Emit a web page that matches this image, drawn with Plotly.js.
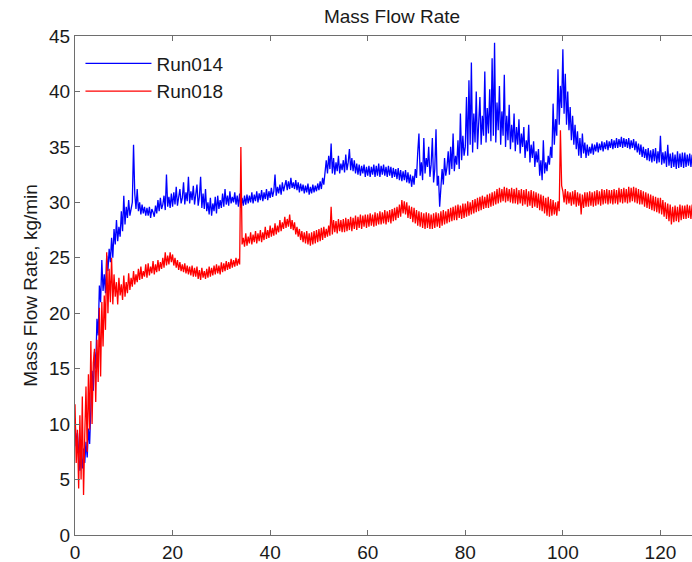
<!DOCTYPE html>
<html>
<head>
<meta charset="utf-8">
<script src="https://cdn.plot.ly/plotly-3.0.1.min.js"></script>
<style>
html,body{margin:0;padding:0;overflow:hidden;background:#fff;}
#chart{width:762px;height:562px;}
</style>
</head>
<body>
<div id="chart"></div>
<script>
// Sampling of the time axis (minutes)
const timeStart = 0;
const timeStep = 0.25;

const seriesNames = ["Run014", "Run018"];

// Run014 mass flow rate, kg/min (every 0.25 min)
const run014 = [
  10.5, 8.0, 9.2, 6.8, 5.8, 7.2, 6.0, 7.8, 6.5, 8.4, 7.0, 9.6, 8.2, 11.5, 14.8, 13.0, 16.5, 15.0, 19.5, 18.0,
  22.5, 21.0, 24.8, 22.0, 23.5, 21.8, 25.2, 23.8, 25.8, 24.6, 26.8, 25.0, 27.6, 26.2, 28.4, 26.5, 27.8, 26.9, 29.2, 27.4,
  30.6, 28.0, 29.6, 28.6, 30.2, 28.8, 29.4, 30.0, 35.2, 30.8, 29.4, 31.2, 29.2, 30.0, 28.9, 29.8, 29.0, 29.6, 28.8, 29.5,
  28.8, 29.6, 28.6, 29.4, 29.1, 28.7, 29.7, 29.0, 30.2, 29.2, 30.4, 29.4, 29.8, 30.6, 29.3, 32.5, 29.6, 30.5, 29.5, 30.8,
  29.6, 30.9, 29.8, 31.4, 29.7, 30.6, 31.2, 29.9, 30.4, 31.8, 29.8, 30.9, 30.1, 32.3, 29.9, 31.0, 30.2, 31.5, 29.8, 30.7,
  31.6, 29.7, 30.5, 32.3, 29.5, 30.8, 29.4, 31.2, 29.2, 30.0, 28.9, 30.4, 28.8, 29.9, 29.2, 30.5, 29.0, 30.6, 29.4, 30.2,
  29.5, 30.8, 29.6, 31.2, 29.8, 30.6, 29.7, 31.0, 29.9, 30.5, 30.0, 30.9, 29.8, 30.6, 29.6, 30.8, 29.5, 30.4, 29.7, 30.6,
  29.8, 30.7, 29.9, 30.6, 30.0, 30.9, 29.9, 30.7, 30.1, 31.0, 30.0, 30.8, 30.2, 31.1, 30.1, 30.9, 30.3, 31.2, 30.2, 31.0,
  30.4, 31.3, 30.5, 31.0, 32.5, 30.6, 31.4, 30.8, 31.6, 30.7, 31.8, 31.0, 31.5, 32.0, 31.1, 31.9, 31.2, 32.2, 31.3, 31.8,
  31.2, 32.0, 31.1, 31.8, 30.9, 31.7, 31.0, 31.6, 30.8, 31.5, 30.9, 31.7, 30.7, 31.4, 30.8, 31.6, 30.9, 31.5, 31.0, 31.7,
  31.1, 31.9, 31.2, 32.2, 31.6, 32.8, 33.8, 32.6, 34.2, 33.0, 35.3, 32.6, 34.0, 32.5, 33.6, 32.8, 34.2, 32.6, 33.5, 32.9,
  33.8, 32.7, 34.3, 32.9, 33.6, 34.8, 32.9, 34.0, 32.8, 33.8, 32.6, 33.5, 32.5, 33.4, 32.4, 33.3, 32.6, 33.4, 32.3, 33.2,
  32.4, 33.3, 32.3, 33.2, 32.5, 33.4, 32.3, 33.3, 32.4, 33.5, 32.3, 33.3, 32.5, 33.4, 32.4, 33.2, 32.3, 33.3, 32.4, 33.2,
  32.2, 33.1, 32.3, 33.0, 32.1, 33.1, 32.0, 32.9, 31.9, 32.8, 32.0, 32.9, 31.8, 32.7, 31.7, 32.5, 31.4, 32.4, 31.6, 33.0,
  32.2, 34.5, 36.2, 32.4, 33.6, 32.0, 35.8, 32.6, 34.0, 33.2, 35.0, 32.3, 33.4, 35.8, 31.8, 33.0, 36.6, 31.5, 32.4, 29.6,
  31.0, 33.0, 31.6, 34.0, 32.4, 33.2, 34.6, 32.5, 35.0, 33.0, 36.2, 32.8, 34.2, 33.4, 35.6, 33.0, 38.0, 33.8, 36.0, 34.2,
  35.0, 39.5, 34.2, 41.0, 35.2, 42.6, 34.5, 38.0, 35.4, 40.0, 34.8, 37.5, 39.5, 35.2, 37.8, 36.0, 41.8, 35.4, 38.5, 36.2,
  40.2, 35.5, 43.0, 36.0, 44.4, 35.4, 39.0, 36.5, 40.5, 35.2, 38.2, 36.0, 41.5, 35.0, 37.8, 35.6, 38.8, 34.8, 37.0, 35.4,
  38.0, 34.6, 36.8, 35.2, 37.5, 34.4, 36.2, 35.0, 36.8, 34.0, 35.6, 34.6, 37.0, 33.6, 35.2, 34.0, 35.5, 33.2, 34.6, 33.6,
  34.8, 32.4, 33.8, 32.0, 35.6, 32.6, 33.6, 32.8, 34.2, 33.4, 35.0, 34.0, 38.9, 35.2, 37.5, 36.0, 42.0, 37.0, 40.5, 38.5,
  43.8, 38.0, 41.6, 37.0, 40.0, 36.5, 38.6, 35.6, 37.8, 35.2, 37.0, 34.8, 36.4, 34.2, 35.8, 34.0, 36.2, 34.4, 35.4, 34.0,
  35.2, 34.2, 35.0, 34.4, 35.3, 34.3, 35.2, 34.6, 35.4, 34.5, 35.3, 34.7, 35.5, 34.6, 35.4, 34.8, 35.6, 34.7, 35.5, 34.9,
  35.7, 34.8, 35.6, 34.9, 35.8, 34.9, 35.7, 35.0, 35.9, 34.9, 35.8, 35.0, 35.7, 34.9, 35.8, 34.8, 35.6, 34.9, 35.7, 34.7,
  35.5, 34.5, 35.3, 34.3, 35.2, 34.1, 35.0, 34.0, 34.8, 33.8, 34.9, 33.7, 34.7, 33.6, 34.8, 33.7, 34.9, 33.5, 34.6, 33.6,
  36.0, 33.4, 34.5, 33.5, 34.6, 33.2, 35.2, 33.3, 34.4, 33.1, 34.5, 33.2, 34.3, 33.0, 34.6, 33.1, 34.4, 33.2, 34.5, 33.1,
  34.5, 33.2, 34.3, 33.3, 34.4, 33.2, 34.3
];

// Run018 mass flow rate, kg/min (every 0.25 min)
const run018 = [
  11.8, 6.5, 9.5, 4.2, 10.8, 5.0, 12.5, 3.6, 9.0, 13.4, 7.5, 14.5, 9.5, 17.5, 10.0, 15.5, 16.8, 12.0, 17.6, 13.8,
  20.5, 14.3, 21.0, 17.0, 21.6, 18.5, 25.5, 20.0, 24.0, 21.0, 25.0, 20.8, 23.5, 21.5, 22.8, 20.8, 23.2, 21.6, 22.6, 21.2,
  23.4, 21.5, 22.8, 21.8, 23.6, 22.1, 23.2, 22.4, 23.8, 22.6, 23.5, 22.8, 24.0, 23.0, 24.2, 23.1, 23.8, 23.3, 24.4, 23.2,
  24.5, 23.4, 24.2, 23.6, 24.7, 23.5, 24.4, 23.7, 24.8, 23.8, 24.6, 24.0, 25.0, 24.1, 25.5, 24.3, 25.2, 24.4, 25.5, 24.6,
  25.3, 24.3, 25.0, 24.1, 24.8, 23.9, 24.6, 23.8, 24.4, 23.7, 24.5, 23.6, 24.3, 23.5, 24.2, 23.4, 24.3, 23.3, 24.1, 23.3,
  24.2, 23.1, 23.9, 23.0, 24.1, 23.2, 23.8, 23.1, 24.0, 23.2, 24.2, 23.3, 24.1, 23.4, 24.3, 23.5, 24.4, 23.6, 24.3, 23.5,
  24.6, 23.7, 24.5, 23.8, 24.7, 23.9, 24.6, 24.0, 24.9, 24.1, 24.8, 24.2, 25.0, 24.3, 24.9, 24.4, 35.0, 26.2, 26.8, 26.0,
  27.2, 26.1, 26.9, 26.3, 27.3, 26.2, 27.1, 26.4, 27.4, 26.3, 27.2, 26.5, 27.5, 26.4, 27.3, 26.6, 27.8, 26.7, 27.5, 26.8,
  27.9, 26.9, 27.7, 27.0, 28.1, 27.1, 27.9, 27.3, 28.4, 27.4, 28.2, 27.6, 28.7, 27.7, 28.5, 27.8, 28.9, 27.6, 28.4, 27.5,
  28.2, 27.1, 27.8, 26.9, 27.6, 26.6, 27.4, 26.4, 27.3, 26.3, 27.4, 26.2, 27.2, 26.1, 27.3, 26.2, 27.4, 26.3, 27.5, 26.4,
  27.6, 26.5, 27.7, 26.6, 27.8, 26.8, 27.6, 26.9, 27.9, 27.0, 29.6, 27.1, 28.4, 27.3, 28.3, 27.2, 28.5, 27.4, 28.4, 27.3,
  28.5, 27.3, 28.6, 27.4, 28.5, 27.5, 28.7, 27.4, 28.6, 27.6, 28.8, 27.5, 28.7, 27.7, 28.9, 27.6, 28.8, 27.8, 28.9, 27.7,
  28.9, 27.8, 29.0, 27.9, 28.9, 27.8, 29.1, 27.9, 29.0, 28.0, 29.2, 28.0, 29.1, 28.1, 29.3, 28.0, 29.2, 28.2, 29.3, 28.1,
  29.4, 28.3, 29.5, 28.4, 29.6, 28.6, 29.8, 28.7, 30.2, 29.0, 30.1, 28.9, 30.0, 28.6, 29.7, 28.5, 29.6, 28.2, 29.5, 28.1,
  29.3, 27.9, 29.2, 27.8, 29.1, 27.7, 29.0, 27.6, 29.1, 27.7, 29.0, 27.6, 28.9, 27.6, 29.0, 27.7, 29.1, 27.8, 29.0, 27.7,
  29.2, 27.9, 29.3, 28.0, 29.2, 28.1, 29.4, 28.2, 29.5, 28.3, 29.6, 28.4, 29.7, 28.4, 29.8, 28.6, 29.7, 28.5, 29.9, 28.6,
  29.9, 28.7, 30.1, 28.8, 30.0, 28.9, 30.2, 29.0, 30.3, 29.1, 30.4, 29.2, 30.5, 29.3, 30.6, 29.4, 30.5, 29.5, 30.7, 29.5,
  30.8, 29.6, 30.9, 29.7, 31.0, 29.8, 31.2, 29.9, 31.3, 30.0, 31.2, 30.1, 31.4, 30.0, 31.3, 30.1, 31.2, 30.0, 31.3, 29.9,
  31.2, 29.9, 31.3, 29.8, 31.1, 29.9, 31.2, 29.7, 31.1, 29.8, 31.2, 29.6, 31.0, 29.7, 31.1, 29.5, 31.0, 29.6, 30.9, 29.5,
  30.8, 29.3, 30.7, 29.2, 30.6, 29.0, 30.4, 28.8, 30.5, 28.7, 30.3, 28.8, 30.2, 28.9, 30.0, 28.8, 30.1, 29.2, 36.5, 31.5,
  31.0, 30.0, 31.2, 29.8, 31.0, 29.9, 30.9, 29.7, 31.0, 29.8, 31.1, 29.6, 30.9, 29.7, 30.8, 28.9, 30.7, 29.5, 30.9, 29.6,
  30.9, 29.6, 31.0, 29.7, 30.9, 29.6, 31.0, 29.7, 31.1, 29.8, 31.0, 29.7, 31.2, 29.8, 31.1, 29.9, 31.2, 29.8, 31.1, 29.9,
  31.1, 29.8, 31.2, 29.9, 31.1, 29.8, 31.3, 30.0, 31.2, 29.9, 31.3, 30.0, 31.2, 29.9, 31.4, 30.0, 31.3, 30.1, 31.4, 30.0,
  31.3, 29.9, 31.2, 29.8, 31.1, 29.8, 31.0, 29.6, 30.9, 29.5, 30.8, 29.4, 30.7, 29.3, 30.6, 29.2, 30.5, 29.1, 30.4, 29.0,
  30.4, 28.9, 30.2, 28.7, 30.0, 28.5, 29.9, 28.3, 29.8, 28.0, 29.6, 28.2, 29.7, 28.3, 29.6, 28.2, 29.8, 28.4, 29.7, 28.5,
  29.7, 28.5, 29.8, 28.6, 29.7, 28.5, 29.8
];

const xTickVals = [0, 20, 40, 60, 80, 100, 120, 140];
const yTickVals = [0, 5, 10, 15, 20, 25, 30, 35, 40, 45];

function timesFor(arr) {
  return arr.map((_, i) => timeStart + i * timeStep);
}

const traces = [
  {x: timesFor(run014), y: run014, name: seriesNames[0], type: "scatter", mode: "lines",
   line: {color: "#0000ff", width: 1.3}},
  {x: timesFor(run018), y: run018, name: seriesNames[1], type: "scatter", mode: "lines",
   line: {color: "#ff0000", width: 1.3}}
];

const fontFam = "Liberation Sans, Arial, sans-serif";
const txtColor = "#1a1a1a";
const axisCommon = {
  showline: true, linecolor: "#6e6e6e", linewidth: 1, mirror: "ticks",
  ticks: "inside", ticklen: 5, tickcolor: "#6e6e6e", tickwidth: 1,
  showgrid: false, zeroline: false, tickfont: {family: fontFam, size: 19, color: txtColor}
};

const layout = {
  width: 762, height: 562,
  margin: {l: 75, r: 4, t: 36, b: 27},
  paper_bgcolor: "#fff", plot_bgcolor: "#fff",
  showlegend: true,
  title: {text: "Mass Flow Rate", font: {family: fontFam, size: 19, color: txtColor},
          xref: "container", x: 392/762, xanchor: "center", yref: "container", y: 1 - 16/562, yanchor: "middle"},
  xaxis: Object.assign({}, axisCommon, {range: [0, 140], tickvals: xTickVals}),
  yaxis: Object.assign({}, axisCommon, {range: [0, 45], tickvals: yTickVals,
          title: {text: "Mass Flow Rate, kg/min", font: {family: fontFam, size: 19, color: txtColor}, standoff: 6}}),
  legend: {x: 0.008, y: 0.983, xanchor: "left", yanchor: "top", bgcolor: "rgba(0,0,0,0)",
           font: {family: fontFam, size: 19, color: txtColor}, itemwidth: 66, tracegroupgap: 0}
};

Plotly.newPlot("chart", traces, layout, {displayModeBar: false, staticPlot: true});
</script>
</body>
</html>
